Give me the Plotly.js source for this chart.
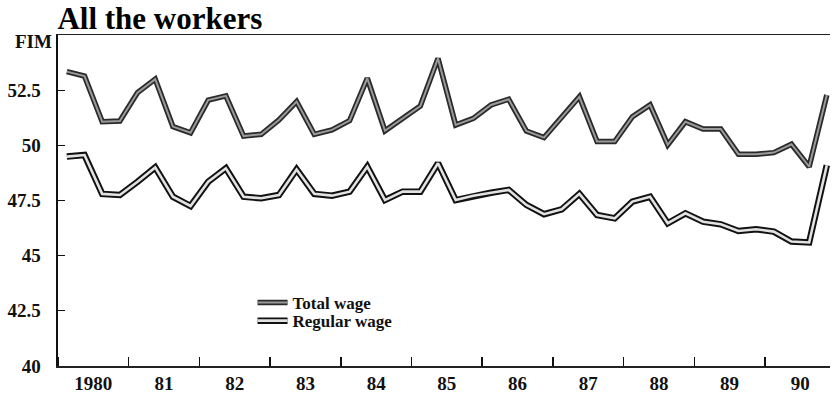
<!DOCTYPE html>
<html>
<head>
<meta charset="utf-8">
<script src="https://cdn.plot.ly/plotly-3.0.1.min.js"></script>
<style>html,body{margin:0;padding:0;background:#fff;}#chart{width:832px;height:400px;}</style>
</head>
<body>
<div id="chart"></div>
<script>
// Quarterly observations, 1980 Q1 .. 1990 Q4
const years = [1980,1981,1982,1983,1984,1985,1986,1987,1988,1989,1990];
const yearLabels = ["1980","81","82","83","84","85","86","87","88","89","90"];
const totalWage = [
  53.34, 53.14, 51.07, 51.10,
  52.39, 53.00, 50.85, 50.57,
  52.05, 52.24, 50.42, 50.50,
  51.15, 51.98, 50.50, 50.70,
  51.12, 53.04, 50.66, 51.22,
  51.78, 53.94, 50.92, 51.22,
  51.83, 52.09, 50.65, 50.35,
  51.30, 52.20, 50.17, 50.17,
  51.30, 51.83, 50.02, 51.07,
  50.74, 50.74, 49.60, 49.60,
  49.67, 50.05, 49.03, 52.28
];
const regularWage = [
  49.49, 49.56, 47.80, 47.75,
  48.35, 49.00, 47.67, 47.25,
  48.35, 48.96, 47.67, 47.60,
  47.75, 48.91, 47.80, 47.72,
  47.90, 49.03, 47.52, 47.90,
  47.90, 49.19, 47.52, 47.72,
  47.85, 47.98, 47.30, 46.88,
  47.10, 47.80, 46.84, 46.69,
  47.45, 47.67, 46.47, 46.92,
  46.54, 46.42, 46.12, 46.20,
  46.09, 45.64, 45.60, 49.10
];
const yTicks = [40, 42.5, 45, 47.5, 50, 52.5];
const yTickText = ["40", "42.5", "45", "47.5", "50", "52.5"];
const seriesNames = ["Total wage", "Regular wage"];

// x position of each quarter (middle of the quarter)
const quarters = [];
years.forEach(y => { for (let q = 0; q < 4; q++) quarters.push(y + (q + 0.5) / 4); });
const labelPos = years.map(y => y + 0.5);

const serif = "Liberation Serif, Times New Roman, serif";

const traces = [
  {x: quarters, y: totalWage, mode: 'lines', name: '<b>' + seriesNames[0] + '</b>', legend: 'legend',
   line: {color: '#2a2a2a', width: 5.5}, hoverinfo: 'skip'},
  {x: quarters, y: totalWage, mode: 'lines', name: '<b>' + seriesNames[0] + '</b>', legend: 'legend2',
   line: {color: '#9a9a9a', width: 2}, hoverinfo: 'skip'},
  {x: quarters, y: regularWage, mode: 'lines', name: '<b>' + seriesNames[1] + '</b>', legend: 'legend3',
   line: {color: '#111111', width: 6.5}, hoverinfo: 'skip'},
  {x: quarters, y: regularWage, mode: 'lines', name: '<b>' + seriesNames[1] + '</b>', legend: 'legend4',
   line: {color: '#e2e2e2', width: 2.6}, hoverinfo: 'skip'}
];

function leg(y, visibleText) {
  return {
    x: 0.252, y: y, xanchor: 'left', yanchor: 'top',
    bgcolor: 'rgba(0,0,0,0)', borderwidth: 0,
    font: {family: serif, size: 17, color: visibleText ? '#111' : 'rgba(0,0,0,0)'}
  };
}

const layout = {
  width: 832, height: 400,
  margin: {l: 58, r: 2, t: 35, b: 34},
  paper_bgcolor: '#ffffff', plot_bgcolor: '#ffffff',
  font: {family: serif, color: '#111', size: 18},
  title: {text: '<b>All the workers</b>', font: {family: serif, size: 31, color: '#000'},
          xref: 'container', yref: 'container', x: 0.069, xanchor: 'left',
          y: 0.955, yanchor: 'middle', pad: {t: 0, b: 0, l: 0, r: 0}},
  showlegend: true,
  legend: leg(0.2447, true),
  legend2: leg(0.2447, false),
  legend3: leg(0.190, true),
  legend4: leg(0.190, false),
  xaxis: {
    range: [1980, 1990.92], showgrid: false, zeroline: false,
    showline: true, linecolor: '#222', linewidth: 1.5, mirror: true,
    tickmode: 'array', tickvals: labelPos, ticktext: yearLabels.map(t => '<b>' + t + '</b>'),
    ticks: '', tickfont: {family: serif, size: 19, color: '#111'},
    minor: {tickmode: 'linear', tick0: 1980, dtick: 1, ticks: 'inside', ticklen: 9,
            tickwidth: 1.5, tickcolor: '#111', showgrid: false}
  },
  yaxis: {
    range: [40, 55], showgrid: false, zeroline: false,
    showline: true, linecolor: '#111', linewidth: 2.5,
    tickmode: 'array', tickvals: yTicks, ticktext: yTickText.map(t => '<b>' + t + '</b>'),
    ticks: 'inside', ticklen: 7, tickwidth: 1.2, tickcolor: '#111',
    tickfont: {family: serif, size: 19, color: '#111'}, ticklabelstandoff: 11
  },
  annotations: [
    {text: '<b>FIM</b>', xref: 'paper', yref: 'y', x: 0, y: 55, xanchor: 'right', yanchor: 'middle',
     xshift: -4, yshift: -6, showarrow: false, font: {family: serif, size: 19, color: '#111'}}
  ]
};

Plotly.newPlot('chart', traces, layout, {displayModeBar: false, staticPlot: true});
</script>
</body>
</html>
